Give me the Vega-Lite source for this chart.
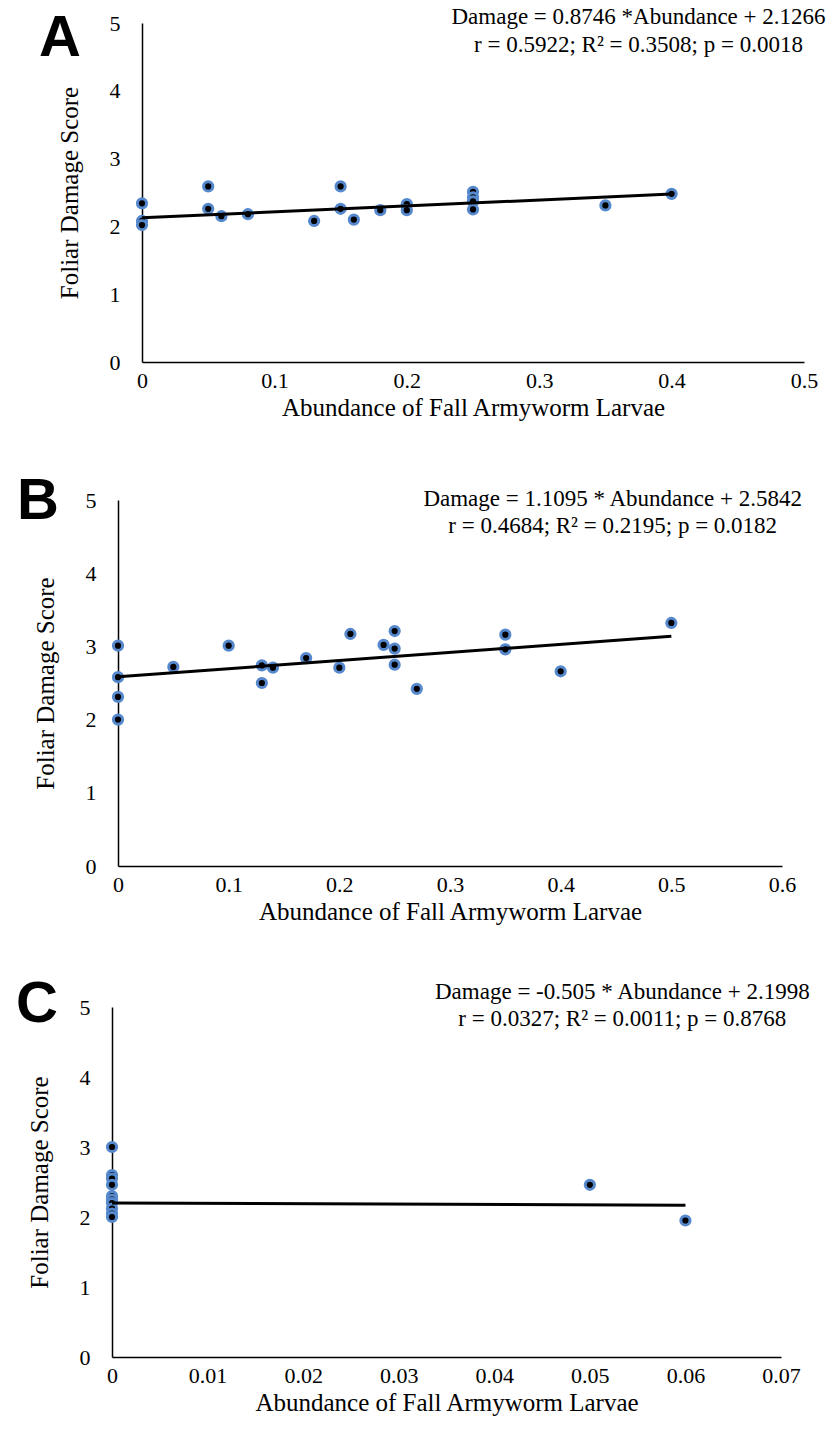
{
  "$schema": "https://vega.github.io/schema/vega-lite/v6.json",
  "padding": {"left": 5, "top": 5, "right": 5, "bottom": 5},
  "background": "white",
  "datasets": {
    "points": [
      {"panel": "A", "abundance": 0, "damage": 2.34},
      {"panel": "A", "abundance": 0, "damage": 2.08},
      {"panel": "A", "abundance": 0, "damage": 2.02},
      {"panel": "A", "abundance": 0.05, "damage": 2.59},
      {"panel": "A", "abundance": 0.05, "damage": 2.26},
      {"panel": "A", "abundance": 0.06, "damage": 2.15},
      {"panel": "A", "abundance": 0.08, "damage": 2.18},
      {"panel": "A", "abundance": 0.13, "damage": 2.08},
      {"panel": "A", "abundance": 0.15, "damage": 2.59},
      {"panel": "A", "abundance": 0.15, "damage": 2.26},
      {"panel": "A", "abundance": 0.16, "damage": 2.1},
      {"panel": "A", "abundance": 0.18, "damage": 2.24},
      {"panel": "A", "abundance": 0.2, "damage": 2.33},
      {"panel": "A", "abundance": 0.2, "damage": 2.24},
      {"panel": "A", "abundance": 0.25, "damage": 2.51},
      {"panel": "A", "abundance": 0.25, "damage": 2.43},
      {"panel": "A", "abundance": 0.25, "damage": 2.37},
      {"panel": "A", "abundance": 0.25, "damage": 2.25},
      {"panel": "A", "abundance": 0.35, "damage": 2.31},
      {"panel": "A", "abundance": 0.4, "damage": 2.48},
      {"panel": "B", "abundance": 0, "damage": 3.01},
      {"panel": "B", "abundance": 0, "damage": 2.58},
      {"panel": "B", "abundance": 0, "damage": 2.31},
      {"panel": "B", "abundance": 0, "damage": 2.0},
      {"panel": "B", "abundance": 0.05, "damage": 2.72},
      {"panel": "B", "abundance": 0.1, "damage": 3.01},
      {"panel": "B", "abundance": 0.13, "damage": 2.74},
      {"panel": "B", "abundance": 0.13, "damage": 2.5},
      {"panel": "B", "abundance": 0.14, "damage": 2.71},
      {"panel": "B", "abundance": 0.17, "damage": 2.84},
      {"panel": "B", "abundance": 0.2, "damage": 2.71},
      {"panel": "B", "abundance": 0.21, "damage": 3.17},
      {"panel": "B", "abundance": 0.24, "damage": 3.02},
      {"panel": "B", "abundance": 0.25, "damage": 3.21},
      {"panel": "B", "abundance": 0.25, "damage": 2.97},
      {"panel": "B", "abundance": 0.25, "damage": 2.75},
      {"panel": "B", "abundance": 0.27, "damage": 2.42},
      {"panel": "B", "abundance": 0.35, "damage": 3.16},
      {"panel": "B", "abundance": 0.35, "damage": 2.96},
      {"panel": "B", "abundance": 0.4, "damage": 2.66},
      {"panel": "B", "abundance": 0.5, "damage": 3.32},
      {"panel": "C", "abundance": 0, "damage": 3.0},
      {"panel": "C", "abundance": 0, "damage": 2.6},
      {"panel": "C", "abundance": 0, "damage": 2.55},
      {"panel": "C", "abundance": 0, "damage": 2.46},
      {"panel": "C", "abundance": 0, "damage": 2.3},
      {"panel": "C", "abundance": 0, "damage": 2.25},
      {"panel": "C", "abundance": 0, "damage": 2.2},
      {"panel": "C", "abundance": 0, "damage": 2.12},
      {"panel": "C", "abundance": 0, "damage": 2.05},
      {"panel": "C", "abundance": 0, "damage": 2.0},
      {"panel": "C", "abundance": 0.05, "damage": 2.46},
      {"panel": "C", "abundance": 0.06, "damage": 1.95}
    ],
    "fits": [
      {"panel": "A", "abundance": 0, "damage": 2.1266},
      {"panel": "A", "abundance": 0.4, "damage": 2.4764},
      {"panel": "B", "abundance": 0, "damage": 2.5842},
      {"panel": "B", "abundance": 0.5, "damage": 3.139},
      {"panel": "C", "abundance": 0, "damage": 2.1998},
      {"panel": "C", "abundance": 0.06, "damage": 2.1695}
    ],
    "labels": [
      {"panel": "A", "letter": "A", "eq1": "Damage = 0.8746 *Abundance + 2.1266", "eq2": "r = 0.5922; R² = 0.3508; p = 0.0018"},
      {"panel": "B", "letter": "B", "eq1": "Damage = 1.1095 * Abundance + 2.5842", "eq2": "r = 0.4684; R² = 0.2195; p = 0.0182"},
      {"panel": "C", "letter": "C", "eq1": "Damage = -0.505 * Abundance + 2.1998", "eq2": "r = 0.0327; R² = 0.0011; p = 0.8768"}
    ]
  },
  "config": {
    "view": {"stroke": null},
    "axis": {
      "grid": false, "ticks": false, "tickSize": 0,
      "domainColor": "#000", "domainWidth": 1.5,
      "labelFont": "Liberation Serif", "labelFontSize": 22, "labelColor": "#000",
      "titleFont": "Liberation Serif", "titleFontSize": 25, "titleFontWeight": "normal", "titleColor": "#000",
      "labelFlush": false, "labelOverlap": false
    },
    "axisX": {"labelPadding": 8},
    "axisY": {"labelPadding": 22, "titlePadding": 27},
    "text": {"font": "Liberation Serif", "fontSize": 23, "color": "#000"}
  },
  "spacing": 52,
  "vconcat": [
    {
      "spacing": 0,
      "hconcat": [
        {"width": 33, "height": 10, "data": {"values": []}, "mark": "point", "encoding": {}},
        {
          "width": 662, "height": 339,
          "layer": [
            {
              "data": {"name": "points"}, "transform": [{"filter": "datum.panel === 'A'"}],
              "mark": {"type": "point", "filled": true, "fill": "#000", "stroke": "#5588cc", "strokeWidth": 3, "size": 85, "opacity": 1},
              "encoding": {
                "x": {"field": "abundance", "type": "quantitative", "scale": {"domain": [0, 0.5], "nice": false}, "axis": {"values": [0, 0.1, 0.2, 0.3, 0.4, 0.5], "format": ".1~f", "labelOverlap": false, "titlePadding": 4, "title": "Abundance of Fall Armyworm Larvae"}},
                "y": {"field": "damage", "type": "quantitative", "scale": {"domain": [0, 5], "nice": false}, "axis": {"values": [0, 0.5, 1, 1.5, 2, 2.5, 3, 3.5, 4, 4.5, 5], "format": ".1~f", "labelOverlap": false, "title": "Foliar Damage Score"}}
              }
            },
            {
              "data": {"name": "fits"}, "transform": [{"filter": "datum.panel === 'A'"}],
              "mark": {"type": "line", "color": "#000", "strokeWidth": 3},
              "encoding": {
                "x": {"field": "abundance", "type": "quantitative", "axis": {"values": [0, 0.1, 0.2, 0.3, 0.4, 0.5], "format": ".1~f", "labelOverlap": false, "titlePadding": 4, "title": "Abundance of Fall Armyworm Larvae"}},
                "y": {"field": "damage", "type": "quantitative", "axis": {"values": [0, 0.5, 1, 1.5, 2, 2.5, 3, 3.5, 4, 4.5, 5], "format": ".1~f", "labelOverlap": false, "title": "Foliar Damage Score"}}
              }
            },
            {
              "data": {"name": "labels"}, "transform": [{"filter": "datum.panel === 'A'"}],
              "mark": {"type": "text", "align": "center", "baseline": "middle"},
              "encoding": {"x": {"datum": 0.375, "type": "quantitative"}, "y": {"datum": 5.09, "type": "quantitative"}, "text": {"field": "eq1"}}
            },
            {
              "data": {"name": "labels"}, "transform": [{"filter": "datum.panel === 'A'"}],
              "mark": {"type": "text", "align": "center", "baseline": "middle"},
              "encoding": {"x": {"datum": 0.375, "type": "quantitative"}, "y": {"datum": 4.675, "type": "quantitative"}, "text": {"field": "eq2"}}
            },
            {
              "data": {"name": "labels"}, "transform": [{"filter": "datum.panel === 'A'"}],
              "mark": {"type": "text", "align": "left", "baseline": "middle", "font": "Liberation Sans Narrow, Liberation Sans, sans-serif", "fontWeight": "bold", "fontSize": 58},
              "encoding": {"x": {"datum": -0.0778, "type": "quantitative"}, "y": {"datum": 4.76, "type": "quantitative"}, "text": {"field": "letter"}}
            }
          ]
        }
      ]
    },
    {
      "spacing": 0,
      "hconcat": [
        {"width": 11, "height": 10, "data": {"values": []}, "mark": "point", "encoding": {}},
        {
          "width": 664, "height": 366,
          "layer": [
            {
              "data": {"name": "points"}, "transform": [{"filter": "datum.panel === 'B'"}],
              "mark": {"type": "point", "filled": true, "fill": "#000", "stroke": "#5588cc", "strokeWidth": 3, "size": 85, "opacity": 1},
              "encoding": {
                "x": {"field": "abundance", "type": "quantitative", "scale": {"domain": [0, 0.6], "nice": false}, "axis": {"values": [0, 0.1, 0.2, 0.3, 0.4, 0.5, 0.6], "format": ".1~f", "labelOverlap": false, "titlePadding": 4, "title": "Abundance of Fall Armyworm Larvae"}},
                "y": {"field": "damage", "type": "quantitative", "scale": {"domain": [0, 5], "nice": false}, "axis": {"values": [0, 0.5, 1, 1.5, 2, 2.5, 3, 3.5, 4, 4.5, 5], "format": ".1~f", "labelOverlap": false, "title": "Foliar Damage Score"}}
              }
            },
            {
              "data": {"name": "fits"}, "transform": [{"filter": "datum.panel === 'B'"}],
              "mark": {"type": "line", "color": "#000", "strokeWidth": 3},
              "encoding": {
                "x": {"field": "abundance", "type": "quantitative", "axis": {"values": [0, 0.1, 0.2, 0.3, 0.4, 0.5, 0.6], "format": ".1~f", "labelOverlap": false, "titlePadding": 4, "title": "Abundance of Fall Armyworm Larvae"}},
                "y": {"field": "damage", "type": "quantitative", "axis": {"values": [0, 0.5, 1, 1.5, 2, 2.5, 3, 3.5, 4, 4.5, 5], "format": ".1~f", "labelOverlap": false, "title": "Foliar Damage Score"}}
              }
            },
            {
              "data": {"name": "labels"}, "transform": [{"filter": "datum.panel === 'B'"}],
              "mark": {"type": "text", "align": "center", "baseline": "middle"},
              "encoding": {"x": {"datum": 0.447, "type": "quantitative"}, "y": {"datum": 5.01, "type": "quantitative"}, "text": {"field": "eq1"}}
            },
            {
              "data": {"name": "labels"}, "transform": [{"filter": "datum.panel === 'B'"}],
              "mark": {"type": "text", "align": "center", "baseline": "middle"},
              "encoding": {"x": {"datum": 0.447, "type": "quantitative"}, "y": {"datum": 4.645, "type": "quantitative"}, "text": {"field": "eq2"}}
            },
            {
              "data": {"name": "labels"}, "transform": [{"filter": "datum.panel === 'B'"}],
              "mark": {"type": "text", "align": "left", "baseline": "middle", "font": "Liberation Sans Narrow, Liberation Sans, sans-serif", "fontWeight": "bold", "fontSize": 58},
              "encoding": {"x": {"datum": -0.0913, "type": "quantitative"}, "y": {"datum": 4.977, "type": "quantitative"}, "text": {"field": "letter"}}
            }
          ]
        }
      ]
    },
    {
      "spacing": 0,
      "hconcat": [
        {"width": 11, "height": 10, "data": {"values": []}, "mark": "point", "encoding": {}},
        {
          "width": 669, "height": 350,
          "layer": [
            {
              "data": {"name": "points"}, "transform": [{"filter": "datum.panel === 'C'"}],
              "mark": {"type": "point", "filled": true, "fill": "#000", "stroke": "#5588cc", "strokeWidth": 3, "size": 85, "opacity": 1},
              "encoding": {
                "x": {"field": "abundance", "type": "quantitative", "scale": {"domain": [0, 0.07], "nice": false}, "axis": {"values": [0, 0.01, 0.02, 0.03, 0.04, 0.05, 0.06, 0.07], "format": ".2~f", "labelOverlap": false, "titlePadding": 4, "title": "Abundance of Fall Armyworm Larvae"}},
                "y": {"field": "damage", "type": "quantitative", "scale": {"domain": [0, 5], "nice": false}, "axis": {"values": [0, 0.5, 1, 1.5, 2, 2.5, 3, 3.5, 4, 4.5, 5], "format": ".1~f", "labelOverlap": false, "title": "Foliar Damage Score"}}
              }
            },
            {
              "data": {"name": "fits"}, "transform": [{"filter": "datum.panel === 'C'"}],
              "mark": {"type": "line", "color": "#000", "strokeWidth": 3},
              "encoding": {
                "x": {"field": "abundance", "type": "quantitative", "axis": {"values": [0, 0.01, 0.02, 0.03, 0.04, 0.05, 0.06, 0.07], "format": ".2~f", "labelOverlap": false, "titlePadding": 4, "title": "Abundance of Fall Armyworm Larvae"}},
                "y": {"field": "damage", "type": "quantitative", "axis": {"values": [0, 0.5, 1, 1.5, 2, 2.5, 3, 3.5, 4, 4.5, 5], "format": ".1~f", "labelOverlap": false, "title": "Foliar Damage Score"}}
              }
            },
            {
              "data": {"name": "labels"}, "transform": [{"filter": "datum.panel === 'C'"}],
              "mark": {"type": "text", "align": "center", "baseline": "middle"},
              "encoding": {"x": {"datum": 0.0534, "type": "quantitative"}, "y": {"datum": 5.21, "type": "quantitative"}, "text": {"field": "eq1"}}
            },
            {
              "data": {"name": "labels"}, "transform": [{"filter": "datum.panel === 'C'"}],
              "mark": {"type": "text", "align": "center", "baseline": "middle"},
              "encoding": {"x": {"datum": 0.0534, "type": "quantitative"}, "y": {"datum": 4.83, "type": "quantitative"}, "text": {"field": "eq2"}}
            },
            {
              "data": {"name": "labels"}, "transform": [{"filter": "datum.panel === 'C'"}],
              "mark": {"type": "text", "align": "left", "baseline": "middle", "font": "Liberation Sans Narrow, Liberation Sans, sans-serif", "fontWeight": "bold", "fontSize": 58},
              "encoding": {"x": {"datum": -0.01004, "type": "quantitative"}, "y": {"datum": 5.024, "type": "quantitative"}, "text": {"field": "letter"}}
            }
          ]
        }
      ]
    }
  ]
}
